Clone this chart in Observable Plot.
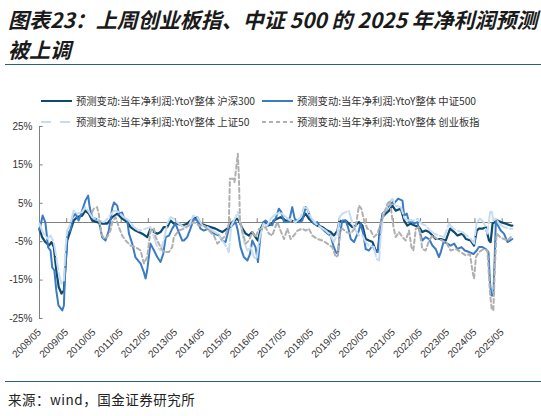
<!DOCTYPE html>
<html>
<head>
<meta charset="utf-8">
<script src="https://cdn.jsdelivr.net/npm/d3@7"></script>
<script src="https://cdn.jsdelivr.net/npm/@observablehq/plot@0.6"></script>
<style>
  body { margin: 0; background: #fff; }
  #wrap { position: relative; width: 541px; height: 416px; overflow: hidden; font-family: "Noto Sans CJK SC", "Liberation Sans", sans-serif; }
  .title { position: absolute; left: 8px; top: 4px; font-size: 21px; font-weight: bold; font-style: italic; color: #1a1a1a; line-height: 30px; white-space: nowrap; }
  .rule { position: absolute; left: 5px; width: 536px; height: 0; border-top: 1.5px solid #2b5d85; }
  #chart { position: absolute; left: 0; top: 112px; }
  #legend { position: absolute; left: 0; top: 90px; }
  .source { position: absolute; left: 8px; top: 389px; font-size: 13.5px; color: #222; letter-spacing: 0.5px; }
</style>
</head>
<body>
<div id="wrap">
  <div class="title">图表23：上周创业板指、中证 500 的 2025 年净利润预测<br>被上调</div>
  <div class="rule" style="top:64px"></div>
  <div id="chart"></div>
  <div id="legend"></div>
  <div class="rule" style="top:381px"></div>
  <div class="source">来源：wind，国金证券研究所</div>
</div>
<script>
// ---- data: [decimal year, % change] ----
const seriesNames = ["预测变动:当年净利润:YtoY整体 沪深300", "预测变动:当年净利润:YtoY整体 中证500", "预测变动:当年净利润:YtoY整体 上证50", "预测变动:当年净利润:YtoY整体 创业板指"];
const yTicks = [-25, -15, -5, 5, 15, 25];
const xTickYears = d3.range(2008, 2026);

const hs300 = [
[2008.33,-1.6],[2008.43,-3.8],[2008.55,-5.1],[2008.68,-6],[2008.77,-5.1],[2008.86,-6.4],[2008.95,-12.5],[2009.04,-16.8],[2009.14,-18.5],[2009.23,-17.7],[2009.29,-10.7],[2009.35,-4.7],[2009.47,-2.1],[2009.59,0.5],[2009.72,1.4],[2009.90,1.8],[2010.02,3.1],[2010.15,2.3],[2010.27,0.5],[2010.45,0.1],[2010.64,-0.3],[2010.82,-0.3],[2011.01,1.4],[2011.19,2.3],[2011.37,1.0],[2011.56,0.1],[2011.68,-1.2],[2011.86,-2.1],[2012.11,-2.9],[2012.29,-3.8],[2012.41,-1.6],[2012.54,-2.5],[2012.66,-2.9],[2012.78,-2.5],[2012.90,-1.2],[2013.03,-1.2],[2013.15,0.5],[2013.27,-0.3],[2013.40,-0.3],[2013.58,-0.8],[2013.76,-0.3],[2013.88,0.5],[2014.01,1],[2014.13,1.4],[2014.25,-0.3],[2014.44,-0.8],[2014.62,-1.2],[2014.80,-1.6],[2014.93,-2.1],[2015.05,-2.5],[2015.23,-1.6],[2015.42,0.1],[2015.58,1],[2015.66,0.5],[2015.79,-1.6],[2015.91,-2.9],[2016.03,-3.4],[2016.15,-2.5],[2016.27,-3.8],[2016.36,-4.7],[2016.46,-1.6],[2016.58,0.1],[2016.70,-0.8],[2016.85,-0.5],[2016.95,0.5],[2017.07,1],[2017.19,1.4],[2017.38,0.5],[2017.56,0.5],[2017.75,0.1],[2017.93,0.5],[2018.11,2.3],[2018.23,1.0],[2018.36,0.1],[2018.54,-0.8],[2018.73,-1.2],[2018.91,-2.1],[2019.03,-2.5],[2019.15,-3.4],[2019.28,-2.1],[2019.36,0.5],[2019.46,0.1],[2019.58,0.5],[2019.70,-0.3],[2019.83,-1.2],[2019.95,-0.8],[2020.07,0.1],[2020.20,-0.8],[2020.32,-4.3],[2020.44,-4.7],[2020.57,-5.1],[2020.69,-7.3],[2020.77,-7.3],[2020.84,-2.1],[2020.93,1.4],[2021.05,2.3],[2021.18,3.1],[2021.30,4.4],[2021.42,3.1],[2021.61,3.6],[2021.73,0.5],[2021.85,-0.8],[2021.97,-0.3],[2022.12,-0.8],[2022.28,-1.2],[2022.40,-2.5],[2022.52,-2.1],[2022.65,-2.5],[2022.77,-3.4],[2022.89,-4.3],[2023.08,-4.3],[2023.26,-4.7],[2023.42,-1.6],[2023.57,-2.5],[2023.69,-3.4],[2023.87,-2.9],[2024.00,-4.3],[2024.18,-4.7],[2024.30,-6],[2024.40,-2.1],[2024.48,-1.6],[2024.61,-1.6],[2024.73,-1.2],[2024.85,-4.7],[2024.91,-5.1],[2024.98,-0.3],[2025.06,0.1],[2025.16,0.5],[2025.28,0.1],[2025.47,-0.3],[2025.65,-0.8],[2025.71,-0.8]
];

const zz500 = [
[2008.33,-2.1],[2008.45,1.8],[2008.55,0],[2008.65,-6.5],[2008.74,-7.3],[2008.80,-11.7],[2008.88,-12.5],[2008.95,-17.7],[2009.03,-21.6],[2009.17,-22.9],[2009.23,-21.6],[2009.26,-15.1],[2009.32,-8.1],[2009.35,-2.9],[2009.47,-2.1],[2009.54,1.3],[2009.66,2.3],[2009.77,0.5],[2009.90,3.1],[2010.02,5.7],[2010.12,7.0],[2010.18,3.9],[2010.27,1.3],[2010.39,1.0],[2010.51,0.5],[2010.64,-3.9],[2010.76,-4.7],[2010.88,-2.1],[2011.01,3.9],[2011.07,5.2],[2011.19,4.4],[2011.25,2.3],[2011.37,2.6],[2011.43,1.3],[2011.56,0.5],[2011.62,-2.9],[2011.74,-5.5],[2011.86,-9.1],[2012.05,-10.7],[2012.17,-13],[2012.23,-14.6],[2012.29,-12.5],[2012.41,-5.5],[2012.54,-7.3],[2012.66,-9],[2012.78,-10.3],[2012.88,-8.2],[2012.97,-3.8],[2013.09,-3.4],[2013.21,-1.6],[2013.33,-0.3],[2013.45,-2.5],[2013.58,-4.7],[2013.64,-4.7],[2013.76,-3.8],[2013.88,-1.6],[2014.01,1.0],[2014.13,0.5],[2014.25,-1.6],[2014.37,-2.1],[2014.56,-1.6],[2014.74,-2.9],[2014.93,-3.4],[2015.05,-4.7],[2015.17,-5.1],[2015.29,-1.6],[2015.42,-0.7],[2015.54,0.1],[2015.62,-2.1],[2015.72,-6.4],[2015.84,-9],[2015.97,-9.9],[2016.07,-8.2],[2016.15,-4.7],[2016.27,-6.4],[2016.36,-10.3],[2016.46,-2.9],[2016.56,0.1],[2016.64,0.5],[2016.76,-0.3],[2016.89,-0.7],[2016.93,0.5],[2017.01,1],[2017.13,3.6],[2017.22,2.7],[2017.32,0.1],[2017.44,0.1],[2017.54,1.4],[2017.62,4],[2017.71,1.0],[2017.87,0.1],[2017.99,0.5],[2018.11,4],[2018.20,3.1],[2018.30,1.0],[2018.42,-0.3],[2018.54,0.1],[2018.66,-1.2],[2018.79,-2.1],[2018.91,-2.9],[2019.03,-3.4],[2019.13,-6],[2019.22,-7.7],[2019.30,-8.2],[2019.36,-3.4],[2019.46,0.5],[2019.58,0.5],[2019.67,-1.2],[2019.77,-4.3],[2019.89,-5.1],[2019.99,-3.4],[2020.07,-2.1],[2020.13,-0.3],[2020.23,-2.9],[2020.32,-6.9],[2020.44,-7.3],[2020.57,-6],[2020.69,-7.7],[2020.77,-7.7],[2020.84,-2.9],[2020.93,2.3],[2021.05,3.1],[2021.18,4.4],[2021.30,5.3],[2021.36,4.9],[2021.51,6.2],[2021.67,5.7],[2021.73,1.8],[2021.83,2.3],[2021.91,0.1],[2022.00,0.5],[2022.09,-0.3],[2022.22,0.1],[2022.32,-2.9],[2022.40,-4.7],[2022.52,-3.8],[2022.65,-4.3],[2022.77,-6],[2022.89,-6.9],[2023.01,-9],[2023.08,-7.7],[2023.18,-5.1],[2023.32,-5.5],[2023.44,-6],[2023.57,-5.5],[2023.69,-6.9],[2023.84,-6.4],[2023.96,-7.3],[2024.12,-7.7],[2024.28,-8.2],[2024.40,-7.3],[2024.48,-6.4],[2024.61,-6.4],[2024.73,-6.9],[2024.83,-7.7],[2024.89,-16],[2024.94,-19],[2025.01,-19],[2025.06,-9],[2025.10,0.1],[2025.18,-0.8],[2025.28,-2.1],[2025.40,-2.9],[2025.53,-5.1],[2025.62,-4.7],[2025.71,-4.3]
];

const sz50 = [
[2008.33,-0.3],[2008.45,-2.5],[2008.62,-4.2],[2008.74,-3.4],[2008.86,-5.1],[2008.95,-9],[2009.04,-13.3],[2009.14,-15.9],[2009.23,-15.1],[2009.29,-6.4],[2009.35,-2.1],[2009.47,-0.3],[2009.59,3.1],[2009.72,2.3],[2009.90,2.7],[2010.02,4.0],[2010.15,2.7],[2010.27,1.4],[2010.51,0.5],[2010.70,0.1],[2010.88,1.4],[2011.07,3.1],[2011.25,2.7],[2011.43,1.4],[2011.62,0.5],[2011.80,-1.2],[2011.98,-2.1],[2012.23,-1.6],[2012.41,-1.2],[2012.54,-3.8],[2012.66,-6.4],[2012.78,-7.3],[2012.90,-4.7],[2013.03,-0.3],[2013.15,1.4],[2013.27,1],[2013.45,-0.3],[2013.64,-1.2],[2013.82,-0.8],[2013.98,1.8],[2014.13,1.4],[2014.32,-0.8],[2014.50,-1.2],[2014.68,-2.1],[2014.87,-2.9],[2015.05,-4.7],[2015.21,-6.4],[2015.29,-7.7],[2015.38,-0.8],[2015.54,1.4],[2015.62,2.7],[2015.72,-0.3],[2015.84,-4.7],[2015.97,-7.3],[2016.09,-6.4],[2016.21,-9],[2016.31,-9.5],[2016.43,-3.8],[2016.56,-0.3],[2016.70,-0.8],[2016.83,1],[2016.95,1.8],[2017.07,2.3],[2017.19,2.7],[2017.38,1.4],[2017.56,0.5],[2017.75,0.1],[2017.93,1.4],[2018.05,4],[2018.18,3.6],[2018.30,1.4],[2018.48,-0.3],[2018.66,-1.2],[2018.85,-2.1],[2019.03,-3.4],[2019.15,-5.1],[2019.28,-2.9],[2019.36,1.4],[2019.46,2.3],[2019.58,2.7],[2019.70,3.1],[2019.83,-0.3],[2019.95,-2.1],[2020.07,-3.4],[2020.20,-3.4],[2020.32,-5.1],[2020.44,-6],[2020.62,-6.4],[2020.72,-9.5],[2020.81,-9.9],[2020.87,-3.8],[2020.97,2.3],[2021.09,3.6],[2021.21,5.3],[2021.30,6.2],[2021.42,4.4],[2021.61,4.0],[2021.75,1],[2021.91,0.5],[2022.07,0.5],[2022.22,1],[2022.37,-0.3],[2022.52,-0.8],[2022.68,-2.1],[2022.83,-2.9],[2023.01,-3.4],[2023.20,-3.8],[2023.38,-0.3],[2023.54,-1.6],[2023.69,-2.1],[2023.87,-2.5],[2024.03,-3.4],[2024.18,-4.3],[2024.30,-5.5],[2024.40,0.1],[2024.52,1],[2024.65,0.1],[2024.79,-2.9],[2024.89,2.7],[2024.95,3.1],[2025.01,0.5],[2025.10,1],[2025.22,-0.3],[2025.40,-1.2],[2025.59,-1.6],[2025.71,-1.6]
];

const cybz = [
[2010.27,2.7],[2010.33,3.6],[2010.45,4.0],[2010.51,2.3],[2010.61,-2.9],[2010.70,-4.2],[2010.82,-3.8],[2010.94,-2.1],[2011.01,0.1],[2011.13,1.4],[2011.25,-1.2],[2011.37,-3.4],[2011.50,-4.7],[2011.68,-6],[2011.86,-6.4],[2012.05,-7.3],[2012.17,-10.7],[2012.29,-9],[2012.41,-2.1],[2012.54,-1.6],[2012.60,-3.8],[2012.78,-6.4],[2012.90,-7.7],[2013.09,-7.7],[2013.21,-6.4],[2013.27,-3.8],[2013.45,-2.1],[2013.64,-1.6],[2013.82,-0.8],[2014.01,0.1],[2014.19,-0.8],[2014.37,-0.8],[2014.56,-2.1],[2014.74,-3.4],[2014.87,-5.5],[2014.99,-4.7],[2015.17,-3.4],[2015.29,-0.3],[2015.33,11.4],[2015.45,11.4],[2015.50,10.5],[2015.58,15.3],[2015.62,17.9],[2015.66,11.8],[2015.70,0.5],[2015.79,-2.5],[2015.91,-5.5],[2016.03,-4.7],[2016.15,-2.5],[2016.27,-3.8],[2016.40,-1.6],[2016.52,-1.6],[2016.64,-1.2],[2016.76,-2.9],[2016.89,-3.4],[2016.95,-2.1],[2017.07,0.1],[2017.19,-2.1],[2017.32,-4.3],[2017.44,-1.6],[2017.56,-4.3],[2017.68,-3.4],[2017.81,-2.1],[2017.99,-1.6],[2018.11,-2.1],[2018.23,-1.6],[2018.36,-3.4],[2018.54,-4.3],[2018.73,-4.7],[2018.91,-5.5],[2019.09,-6.4],[2019.22,-9],[2019.30,-8.6],[2019.37,-2.1],[2019.46,-1.6],[2019.62,-2.5],[2019.77,-2.9],[2019.95,-1.2],[2020.07,4.4],[2020.16,3.6],[2020.26,0.5],[2020.38,-1.6],[2020.50,-2.1],[2020.62,-3.8],[2020.75,-2.9],[2020.87,-0.3],[2020.99,2.3],[2021.12,4.9],[2021.21,5.7],[2021.24,4],[2021.34,-1.2],[2021.42,-3.8],[2021.54,-2.5],[2021.67,-3.8],[2021.79,-4.7],[2021.91,-2.1],[2022.00,-6.4],[2022.07,-7.3],[2022.16,-1.6],[2022.28,-1.2],[2022.40,-6.9],[2022.52,-7.3],[2022.65,-4.7],[2022.77,-3.4],[2022.95,-4.3],[2023.14,-4.7],[2023.30,-5.5],[2023.44,-7.3],[2023.63,-6.9],[2023.81,-7.7],[2024.00,-8.6],[2024.15,-8.2],[2024.24,-12.5],[2024.30,-14.7],[2024.37,-9],[2024.48,-7.7],[2024.65,-6.9],[2024.79,-7.3],[2024.89,-18.6],[2024.95,-22.5],[2025.01,-22.9],[2025.07,-10.7],[2025.13,-2.9],[2025.26,-3.8],[2025.40,-4.3],[2025.53,-4.7],[2025.65,-3.8]
];

const colors = ["#0d4a70", "#3b7bc4", "#c6dcf1", "#b0b0b0"];
const dashes = [null, null, "12,3", "4,3"];

const x0 = 2008 + 4/12;
const xEnd = 2025.71;
const tickPos = xTickYears.map(y => y + 4/12);
const fx = d => d[0], fy = d => d[1];

const chart = Plot.plot({
  width: 541,
  height: 270,
  marginTop: 14,
  marginBottom: 64,
  marginLeft: 39,
  marginRight: 28,
  style: { fontFamily: "'Liberation Sans', Arial, sans-serif", fontSize: "10px", color: "#333", background: "transparent" },
  x: { type: "linear", domain: [x0, 2025.75] },
  y: { domain: [-25, 25] },
  marks: [
    Plot.ruleY([0], { x1: x0, x2: xEnd, stroke: "#7f7f7f", strokeWidth: 1 }),
    Plot.ruleX(tickPos, { y1: 0, y2: 1, stroke: "#7f7f7f", strokeWidth: 1 }),
    Plot.ruleX([x0], { y1: -25, y2: 25, stroke: "#7f7f7f", strokeWidth: 1 }),
    Plot.ruleY(yTicks, { x1: x0, x2: x0 + 0.13, stroke: "#7f7f7f", strokeWidth: 1 }),
    Plot.axisY({ ticks: yTicks, tickSize: 0, tickPadding: 7, tickFormat: d => d + "%", fontSize: 10, fill: "#333" }),
    Plot.axisX({ ticks: tickPos, tickSize: 0, tickPadding: 12, tickRotate: -45, tickFormat: d => `${Math.round(d - 4/12)}/05`, fontSize: 10, fill: "#333" }),
    Plot.line(hs300, { x: fx, y: fy, stroke: colors[0], strokeWidth: 2.2 }),
    Plot.line(zz500, { x: fx, y: fy, stroke: colors[1], strokeWidth: 2 }),
    Plot.line(sz50, { x: fx, y: fy, stroke: colors[2], strokeWidth: 2, strokeDasharray: dashes[2] }),
    Plot.line(cybz, { x: fx, y: fy, stroke: colors[3], strokeWidth: 2, strokeDasharray: dashes[3] })
  ]
});
document.getElementById("chart").appendChild(chart);

// legend
const ns = "http://www.w3.org/2000/svg";
const leg = document.createElementNS(ns, "svg");
leg.setAttribute("width", 541); leg.setAttribute("height", 42);
const pos = [[41, 11], [262, 11], [41, 32], [262, 32]];
seriesNames.forEach((name, i) => {
  const [lx, ly] = pos[i];
  const ln = document.createElementNS(ns, "line");
  ln.setAttribute("x1", lx); ln.setAttribute("x2", lx + 31);
  ln.setAttribute("y1", ly); ln.setAttribute("y2", ly);
  ln.setAttribute("stroke", colors[i]); ln.setAttribute("stroke-width", 2);
  if (i === 2) ln.setAttribute("stroke-dasharray", "10,9");
  if (i === 3) ln.setAttribute("stroke-dasharray", "4,3");
  leg.appendChild(ln);
  const t = document.createElementNS(ns, "text");
  t.setAttribute("x", lx + 35); t.setAttribute("y", ly + 4);
  t.setAttribute("font-size", 10.3); t.setAttribute("fill", "#333");
  t.setAttribute("font-family", "'Noto Sans CJK SC', sans-serif");
  t.textContent = name;
  leg.appendChild(t);
});
document.getElementById("legend").appendChild(leg);
</script>
</body>
</html>
